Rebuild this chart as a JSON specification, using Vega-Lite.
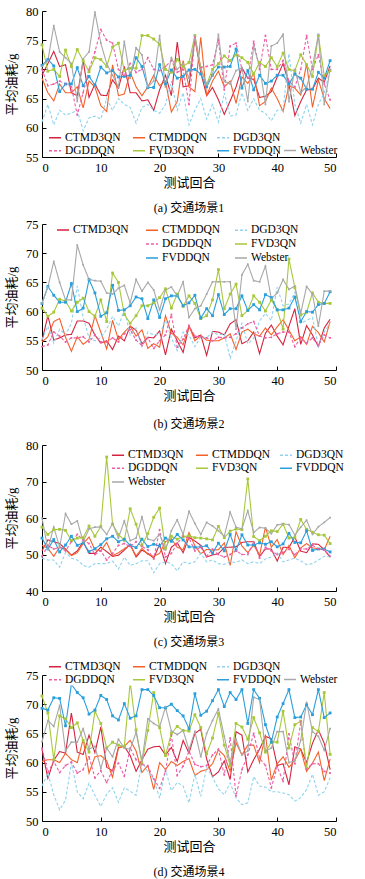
{
"$schema": "https://vega.github.io/schema/vega-lite/v6.json",
"spacing": 4,
"config": {
  "view": {"stroke": null},
  "axis": {"labelFont": "Liberation Serif", "labelFontSize": 12.5, "labelColor": "#000", "tickColor": "#000", "domainColor": "#000", "domainWidth": 1, "tickWidth": 1, "tickSize": -4, "grid": false, "labelPadding": 8, "titleFont": "Liberation Serif, Noto Sans CJK SC", "titleFontSize": 13, "titleFontWeight": "normal", "titleColor": "#000"},
  "axisX": {"titlePadding": 3},
  "axisY": {"titlePadding": 7},
  "legend": {"labelFont": "Liberation Serif", "labelFontSize": 11.5, "labelColor": "#000", "symbolType": "stroke", "symbolSize": 144, "symbolStrokeWidth": 1.5, "labelOffset": 3, "rowPadding": 1, "padding": 0, "direction": "horizontal"},
  "title": {"font": "Liberation Serif, Noto Sans CJK SC", "fontSize": 12, "fontWeight": "normal", "color": "#000", "offset": 13}
},
"resolve": {"scale": {"color": "independent", "strokeDash": "independent"}},
"datasets": {
"p1": [
{"x":0,"a":69,"b":68.5,"c":61,"d":70,"e":74.2,"f":70.7,"g":70.5},
{"x":1,"a":71,"b":66,"c":64,"d":67.2,"e":69.7,"f":71.7,"g":71.5},
{"x":2,"a":73.1,"b":64.6,"c":60.5,"d":67.5,"e":70,"f":70.6,"g":77.5},
{"x":3,"a":70.5,"b":67.5,"c":63,"d":68,"e":68.8,"f":66.2,"g":73},
{"x":4,"a":70.8,"b":66,"c":62.2,"d":67.5,"e":73.3,"f":67.5,"g":72},
{"x":5,"a":66,"b":66,"c":62.5,"d":67,"e":70.5,"f":67.5,"g":71},
{"x":6,"a":65.5,"b":67,"c":63,"d":62.2,"e":73.4,"f":70.3,"g":64.5},
{"x":7,"a":71.5,"b":63.4,"c":59.5,"d":66,"e":71.5,"f":67.2,"g":71.8},
{"x":8,"a":65.2,"b":68,"c":61.7,"d":70,"e":69.6,"f":68.8,"g":73},
{"x":9,"a":67.5,"b":67,"c":62,"d":73,"e":72,"f":67.3,"g":79.8},
{"x":10,"a":65.6,"b":63.8,"c":61.5,"d":76.8,"e":71.7,"f":70.4,"g":74.5},
{"x":11,"a":65.5,"b":62.8,"c":65,"d":75,"e":70.5,"f":69.4,"g":71},
{"x":12,"a":68.2,"b":70.8,"c":63,"d":74.5,"e":73.8,"f":69.8,"g":69},
{"x":13,"a":66.8,"b":65.5,"c":65,"d":70,"e":74.5,"f":68.7,"g":67},
{"x":14,"a":70.5,"b":65.8,"c":64,"d":69,"e":69.8,"f":68.8,"g":74.8},
{"x":15,"a":66,"b":69.5,"c":63.5,"d":71,"e":70.2,"f":69,"g":68.5},
{"x":16,"a":66,"b":67,"c":60.8,"d":69.5,"e":70.2,"f":72,"g":73.7},
{"x":17,"a":64.6,"b":65.5,"c":63.5,"d":70,"e":75.8,"f":70.5,"g":72.5},
{"x":18,"a":64.8,"b":67,"c":64,"d":72,"e":75.8,"f":66.9,"g":67},
{"x":19,"a":63,"b":69,"c":63,"d":70,"e":75.2,"f":66.9,"g":68},
{"x":20,"a":66.5,"b":67.2,"c":62.5,"d":69.8,"e":74.3,"f":70.8,"g":75.8},
{"x":21,"a":69,"b":68,"c":64,"d":70.5,"e":70,"f":67.5,"g":67},
{"x":22,"a":65.5,"b":62.7,"c":68,"d":71.5,"e":69.5,"f":69.9,"g":72},
{"x":23,"a":74.7,"b":64.5,"c":63,"d":69.5,"e":71.7,"f":68.5,"g":70},
{"x":24,"a":67,"b":71.5,"c":66,"d":70,"e":70.5,"f":68.8,"g":71},
{"x":25,"a":67.2,"b":67,"c":60.5,"d":64,"e":71.2,"f":69.9,"g":68.5},
{"x":26,"a":75.4,"b":66.2,"c":63,"d":75.5,"e":75.8,"f":70,"g":75.8},
{"x":27,"a":69.5,"b":75.5,"c":65,"d":70.3,"e":70.3,"f":69.2,"g":70},
{"x":28,"a":65.5,"b":65.5,"c":61.5,"d":70.5,"e":67.4,"f":67,"g":67.5},
{"x":29,"a":66.9,"b":68,"c":64,"d":70.8,"e":70,"f":69,"g":69},
{"x":30,"a":64.8,"b":69.7,"c":61,"d":75,"e":71,"f":70.4,"g":76},
{"x":31,"a":62.3,"b":67,"c":66,"d":66.5,"e":72.3,"f":70.4,"g":68},
{"x":32,"a":64.6,"b":68,"c":62,"d":74,"e":71.5,"f":70.5,"g":67.5},
{"x":33,"a":67,"b":64.2,"c":62.2,"d":74.5,"e":72.5,"f":73.5,"g":69.8},
{"x":34,"a":70.3,"b":68.7,"c":66,"d":70,"e":72,"f":66.8,"g":70.3},
{"x":35,"a":68.5,"b":67.6,"c":63,"d":68.5,"e":71.2,"f":69.8,"g":64.5},
{"x":36,"a":68.3,"b":69.3,"c":65,"d":74.8,"e":69.2,"f":66.5,"g":74},
{"x":37,"a":65.2,"b":63.8,"c":63,"d":70,"e":71.2,"f":69,"g":70.5},
{"x":38,"a":65.4,"b":64.5,"c":62.5,"d":75.8,"e":70.5,"f":67.6,"g":64},
{"x":39,"a":66.2,"b":66.8,"c":61.2,"d":70,"e":72,"f":68,"g":74},
{"x":40,"a":68.7,"b":65,"c":63,"d":70,"e":70.5,"f":69,"g":74.5},
{"x":41,"a":71,"b":62.8,"c":63,"d":71.5,"e":72.8,"f":69,"g":76},
{"x":42,"a":67.5,"b":67.2,"c":72.7,"d":68,"e":70,"f":67.5,"g":64.5},
{"x":43,"a":62.1,"b":66.8,"c":64,"d":67,"e":69.8,"f":69.2,"g":70},
{"x":44,"a":64.5,"b":65.6,"c":60.8,"d":70,"e":72.5,"f":68.5,"g":66},
{"x":45,"a":66.5,"b":71,"c":64,"d":75.8,"e":70.8,"f":66.6,"g":67},
{"x":46,"a":66.6,"b":63.5,"c":60.5,"d":70,"e":68.8,"f":66.6,"g":70.5},
{"x":47,"a":68.5,"b":68.2,"c":64,"d":72.5,"e":75.8,"f":69.5,"g":76},
{"x":48,"a":67.8,"b":65,"c":66,"d":67.5,"e":68.9,"f":68.5,"g":64},
{"x":49,"a":70.6,"b":63.3,"c":70,"d":64.8,"e":69.8,"f":71.5,"g":70}
],
"p2": [
{"x":0,"a":55,"b":54.8,"c":55.2,"d":54,"e":60.6,"f":61.4,"g":61.5},
{"x":1,"a":59.3,"b":55.7,"c":57.5,"d":54.3,"e":59.2,"f":64.3,"g":64.2},
{"x":2,"a":55.1,"b":58.3,"c":54.6,"d":56.5,"e":59.9,"f":62.8,"g":68.6},
{"x":3,"a":55.5,"b":58.8,"c":57,"d":55.8,"e":62.1,"f":61.6,"g":65},
{"x":4,"a":56,"b":55.6,"c":56,"d":54.8,"e":61.8,"f":61.6,"g":62},
{"x":5,"a":56.1,"b":53.2,"c":58,"d":55.5,"e":60.1,"f":64.8,"g":62},
{"x":6,"a":58.4,"b":55.7,"c":64.4,"d":55.5,"e":61.6,"f":60,"g":71.4},
{"x":7,"a":58.4,"b":54.4,"c":59,"d":55.7,"e":62.3,"f":60.6,"g":68},
{"x":8,"a":58,"b":55.2,"c":55.5,"d":54.8,"e":60,"f":65.5,"g":65.5},
{"x":9,"a":56,"b":59.3,"c":55,"d":56,"e":59.2,"f":63.2,"g":65.3},
{"x":10,"a":54.6,"b":56.5,"c":55.5,"d":54.8,"e":62,"f":59.2,"g":65.2},
{"x":11,"a":55,"b":53.6,"c":57,"d":54.8,"e":58.3,"f":59.8,"g":63.2},
{"x":12,"a":53.5,"b":58.5,"c":59.2,"d":55.5,"e":66.6,"f":64.5,"g":63},
{"x":13,"a":55.8,"b":55.2,"c":57.5,"d":54.8,"e":65,"f":60.2,"g":64},
{"x":14,"a":55,"b":56.5,"c":60.3,"d":56.2,"e":59.5,"f":60.3,"g":64.5},
{"x":15,"a":57.5,"b":57.5,"c":56,"d":56.9,"e":58,"f":61,"g":61.5},
{"x":16,"a":56.8,"b":55.8,"c":57.2,"d":55.1,"e":59.3,"f":62.5,"g":65.5},
{"x":17,"a":54.5,"b":56.9,"c":54,"d":54.2,"e":61,"f":62.2,"g":63.5},
{"x":18,"a":55.6,"b":53.7,"c":56.5,"d":55.5,"e":61,"f":58.8,"g":65},
{"x":19,"a":55.5,"b":54.5,"c":56,"d":53.7,"e":61.5,"f":62,"g":63.7},
{"x":20,"a":56.7,"b":53.9,"c":56.2,"d":55,"e":62.4,"f":59,"g":60.3},
{"x":21,"a":52.6,"b":59.3,"c":58.5,"d":56,"e":63.9,"f":62.2,"g":63.7},
{"x":22,"a":57,"b":56.3,"c":55.5,"d":59.5,"e":60.6,"f":62.7,"g":64.2},
{"x":23,"a":55,"b":55.6,"c":53.3,"d":53.9,"e":63,"f":62.7,"g":62.7},
{"x":24,"a":53,"b":54.3,"c":56.5,"d":55.3,"e":60.9,"f":61,"g":65.1},
{"x":25,"a":57.5,"b":57.6,"c":56,"d":57.6,"e":62.7,"f":61.5,"g":59},
{"x":26,"a":55.5,"b":55,"c":54,"d":55.8,"e":61.4,"f":62.8,"g":60.5},
{"x":27,"a":56,"b":55.9,"c":55.7,"d":55.7,"e":58.8,"f":58.9,"g":61},
{"x":28,"a":52.5,"b":55.1,"c":55.5,"d":55.5,"e":59.3,"f":60.5,"g":63},
{"x":29,"a":56.6,"b":55,"c":56.5,"d":55,"e":62,"f":59.3,"g":65.1},
{"x":30,"a":56.5,"b":55,"c":56,"d":55.6,"e":67.2,"f":62.9,"g":65.1},
{"x":31,"a":56,"b":55.5,"c":56.2,"d":55.5,"e":60.5,"f":59.5,"g":65.1},
{"x":32,"a":57.9,"b":56.2,"c":52,"d":55.6,"e":63,"f":60.5,"g":65.1},
{"x":33,"a":58.6,"b":53.5,"c":55,"d":56.2,"e":64.7,"f":60.5,"g":57},
{"x":34,"a":54.5,"b":56.5,"c":58,"d":57.2,"e":59.3,"f":62.7,"g":66.3},
{"x":35,"a":55,"b":57,"c":54.5,"d":57.9,"e":60.2,"f":60.2,"g":68.1},
{"x":36,"a":56.5,"b":56.2,"c":55.4,"d":58.3,"e":62.7,"f":61.2,"g":65.3},
{"x":37,"a":52.8,"b":55.8,"c":58.4,"d":55.8,"e":61.6,"f":60.3,"g":65.1},
{"x":38,"a":56.3,"b":57.2,"c":59.7,"d":55.5,"e":60.1,"f":62.9,"g":67.8},
{"x":39,"a":57.7,"b":56,"c":58.5,"d":55.6,"e":62,"f":62.4,"g":62.2},
{"x":40,"a":55.8,"b":57.4,"c":64.2,"d":56.2,"e":60.3,"f":60.3,"g":63.2},
{"x":41,"a":54.3,"b":58.6,"c":61,"d":56.5,"e":57,"f":60.3,"g":65.5},
{"x":42,"a":57.5,"b":56.8,"c":61.3,"d":56.5,"e":69,"f":60.6,"g":63.8},
{"x":43,"a":60.5,"b":55,"c":63.3,"d":54,"e":64.1,"f":62.5,"g":64.4},
{"x":44,"a":54.4,"b":55.7,"c":58,"d":55.5,"e":59.4,"f":58.3,"g":59.7},
{"x":45,"a":57.6,"b":54.4,"c":58.5,"d":54.6,"e":59.9,"f":60,"g":64.3},
{"x":46,"a":56,"b":57.5,"c":59,"d":55.5,"e":63.2,"f":59.9,"g":63},
{"x":47,"a":54,"b":56.4,"c":54,"d":54.2,"e":61.6,"f":61.2,"g":57.5},
{"x":48,"a":57.2,"b":54.8,"c":56.5,"d":56,"e":61.4,"f":61.4,"g":63.5},
{"x":49,"a":58.7,"b":58.3,"c":58,"d":55.5,"e":61.4,"f":63.4,"g":63.5}
],
"p3": [
{"x":0,"a":51,"b":52.5,"c":49,"d":49.5,"e":57.5,"f":54.5,"g":60},
{"x":1,"a":54,"b":51.7,"c":48.5,"d":52.5,"e":55.5,"f":51.5,"g":51.5},
{"x":2,"a":53.5,"b":49.5,"c":48.5,"d":51.5,"e":56.8,"f":54.1,"g":57.5},
{"x":3,"a":53,"b":52,"c":46.5,"d":52,"e":56.9,"f":50.7,"g":52},
{"x":4,"a":51.5,"b":51.4,"c":50.5,"d":51,"e":56.6,"f":52.6,"g":61.2},
{"x":5,"a":49.8,"b":49.7,"c":49,"d":53.5,"e":53.8,"f":55,"g":58.3},
{"x":6,"a":51,"b":50.5,"c":48.5,"d":55.5,"e":54.5,"f":52.5,"g":59.2},
{"x":7,"a":53.5,"b":53,"c":47,"d":54,"e":54.6,"f":53.2,"g":53.5},
{"x":8,"a":50.3,"b":54.8,"c":46.5,"d":53,"e":57.8,"f":50.8,"g":57},
{"x":9,"a":50.3,"b":51.3,"c":47.5,"d":50,"e":55,"f":51.6,"g":57.5},
{"x":10,"a":52,"b":51,"c":47.5,"d":51,"e":57.7,"f":52.7,"g":57.5},
{"x":11,"a":50.8,"b":53.3,"c":47.5,"d":48.5,"e":76.7,"f":54.3,"g":55.5},
{"x":12,"a":49.5,"b":49.7,"c":48.2,"d":50.3,"e":58.3,"f":55,"g":58.5},
{"x":13,"a":49.8,"b":50.5,"c":46,"d":52.5,"e":55.5,"f":53.5,"g":54.5},
{"x":14,"a":51.2,"b":51.6,"c":49.3,"d":53,"e":53.9,"f":54.2,"g":59.2},
{"x":15,"a":52.8,"b":52.5,"c":47,"d":52.2,"e":62.5,"f":52.5,"g":53.8},
{"x":16,"a":49.3,"b":49.6,"c":47.5,"d":53.5,"e":58.3,"f":51.9,"g":54.5},
{"x":17,"a":51.2,"b":51.7,"c":48.3,"d":52.2,"e":52.5,"f":54.2,"g":60.3},
{"x":18,"a":50.3,"b":50,"c":48.3,"d":51.3,"e":55.7,"f":52.2,"g":54.2},
{"x":19,"a":49,"b":49.5,"c":45,"d":48.8,"e":60.2,"f":52.8,"g":53.8},
{"x":20,"a":52.8,"b":50.3,"c":47.5,"d":56.8,"e":62.7,"f":52.3,"g":55.5},
{"x":21,"a":47.5,"b":53.5,"c":48,"d":49.3,"e":51.7,"f":54.5,"g":51.3},
{"x":22,"a":52,"b":54.3,"c":47.5,"d":50.3,"e":55,"f":53.6,"g":56.5},
{"x":23,"a":53.2,"b":52,"c":45.5,"d":53,"e":54.2,"f":55.5,"g":59.5},
{"x":24,"a":50.5,"b":51.3,"c":48,"d":55,"e":54.9,"f":54,"g":55.5},
{"x":25,"a":54.7,"b":56,"c":47.5,"d":54.5,"e":55.1,"f":52.1,"g":61.8},
{"x":26,"a":53.7,"b":52.4,"c":48,"d":51,"e":54.6,"f":52,"g":58.5},
{"x":27,"a":52.5,"b":50.2,"c":50.3,"d":52,"e":54.5,"f":52.1,"g":55.5},
{"x":28,"a":49.3,"b":51.4,"c":48,"d":49.5,"e":54.3,"f":52.4,"g":58.8},
{"x":29,"a":49.9,"b":51.2,"c":48.5,"d":51.5,"e":54,"f":50.4,"g":57.8},
{"x":30,"a":50.2,"b":51.3,"c":47.5,"d":50,"e":57.7,"f":53.1,"g":56.5},
{"x":31,"a":52,"b":53.2,"c":47.3,"d":49.3,"e":54.6,"f":51,"g":55},
{"x":32,"a":52,"b":47,"c":48,"d":50,"e":56.4,"f":55.5,"g":61.6},
{"x":33,"a":52.1,"b":56.2,"c":47.8,"d":51,"e":57,"f":51.1,"g":57.5},
{"x":34,"a":53.3,"b":52.3,"c":48.5,"d":50,"e":56.8,"f":55.4,"g":57},
{"x":35,"a":53.5,"b":50.5,"c":47.5,"d":50,"e":70.7,"f":52.6,"g":62},
{"x":36,"a":53.5,"b":52.6,"c":48,"d":53.5,"e":54.9,"f":52.6,"g":56},
{"x":37,"a":49.5,"b":49.8,"c":47.5,"d":49,"e":53.8,"f":53.2,"g":57.4},
{"x":38,"a":51.5,"b":57.5,"c":48.8,"d":52,"e":55,"f":52.8,"g":57.2},
{"x":39,"a":51.5,"b":52,"c":49.3,"d":51,"e":56.5,"f":53.5,"g":55.7},
{"x":40,"a":48.2,"b":54.1,"c":50.5,"d":50,"e":56.3,"f":52.1,"g":58.1},
{"x":41,"a":52,"b":50,"c":48,"d":50.5,"e":58.3,"f":52.9,"g":58.4},
{"x":42,"a":51.9,"b":52.5,"c":48.5,"d":51.5,"e":54.5,"f":55.8,"g":58.2},
{"x":43,"a":54.8,"b":49.1,"c":49,"d":50,"e":54.7,"f":53.3,"g":55.3},
{"x":44,"a":50.9,"b":51.8,"c":48.3,"d":51.5,"e":59.6,"f":53.2,"g":57.5},
{"x":45,"a":50.5,"b":53,"c":47.2,"d":51.5,"e":56.9,"f":56.5,"g":59.4},
{"x":46,"a":52.9,"b":51.8,"c":47.5,"d":52.5,"e":56.1,"f":51.1,"g":55.5},
{"x":47,"a":52.8,"b":51.6,"c":48.5,"d":51.5,"e":55.4,"f":51.5,"g":57.6},
{"x":48,"a":51.3,"b":51.3,"c":49.5,"d":51.3,"e":55.3,"f":51.5,"g":58.8},
{"x":49,"a":49.3,"b":55,"c":49.5,"d":49.5,"e":53,"f":50.7,"g":60.1}
],
"p4": [
{"x":0,"a":62.3,"b":60.2,"c":56,"d":62.5,"e":71.4,"f":69.3,"g":63.6},
{"x":1,"a":57.3,"b":60.5,"c":58.2,"d":58.3,"e":68.5,"f":69,"g":67.2},
{"x":2,"a":60.4,"b":60.5,"c":54.5,"d":60.2,"e":60.5,"f":71.1,"g":66.2},
{"x":3,"a":61.9,"b":60,"c":51.9,"d":58.3,"e":68,"f":71,"g":69.8},
{"x":4,"a":61.6,"b":61.6,"c":53.6,"d":59.5,"e":67.5,"f":66.3,"g":62},
{"x":5,"a":68.5,"b":60.5,"c":60,"d":60.1,"e":66,"f":73.4,"g":63.5},
{"x":6,"a":61.8,"b":60,"c":55,"d":58.2,"e":66.8,"f":72,"g":63.5},
{"x":7,"a":61.4,"b":64,"c":53.8,"d":58.8,"e":63.8,"f":71.1,"g":65.8},
{"x":8,"a":64.7,"b":58.2,"c":56.5,"d":61,"e":61.8,"f":68.3,"g":62.3},
{"x":9,"a":61.7,"b":61,"c":54.4,"d":57.4,"e":68.8,"f":69,"g":62.8},
{"x":10,"a":66.1,"b":61.2,"c":52.5,"d":58.6,"e":66.7,"f":71.5,"g":59},
{"x":11,"a":59.2,"b":60.3,"c":54.6,"d":56.6,"e":62.5,"f":70.8,"g":62.5},
{"x":12,"a":58.6,"b":57.5,"c":55.7,"d":58.7,"e":63.5,"f":68,"g":61},
{"x":13,"a":62.6,"b":62.5,"c":53.2,"d":59.9,"e":63,"f":67.3,"g":64},
{"x":14,"a":62.8,"b":62.8,"c":55.7,"d":57.7,"e":62.7,"f":70.1,"g":62.5},
{"x":15,"a":61.2,"b":63.8,"c":55.1,"d":62.5,"e":73.8,"f":67.6,"g":62.3},
{"x":16,"a":58.5,"b":62,"c":54.4,"d":60.5,"e":65.6,"f":68,"g":65.2},
{"x":17,"a":60.5,"b":58.3,"c":60.2,"d":59.7,"e":59.8,"f":72.5,"g":60.3},
{"x":18,"a":62.3,"b":59.5,"c":58.4,"d":59.4,"e":65.5,"f":72.5,"g":67.5},
{"x":19,"a":62.7,"b":55.4,"c":57.2,"d":57.2,"e":72,"f":71.5,"g":66.7},
{"x":20,"a":62.8,"b":60,"c":53.9,"d":55.6,"e":66,"f":69.4,"g":66.1},
{"x":21,"a":61.3,"b":58.8,"c":58.8,"d":58.5,"e":61.2,"f":69.4,"g":69.5},
{"x":22,"a":62.6,"b":60.2,"c":55.2,"d":64.7,"e":65,"f":70,"g":65.4},
{"x":23,"a":60.2,"b":59.5,"c":56.6,"d":57.8,"e":66.2,"f":68.9,"g":64.8},
{"x":24,"a":63.8,"b":60.2,"c":56,"d":59.4,"e":65.5,"f":68,"g":65.5},
{"x":25,"a":61.6,"b":60.7,"c":53.1,"d":62,"e":65.4,"f":65.8,"g":62.2},
{"x":26,"a":65,"b":57.8,"c":58,"d":59.7,"e":68.2,"f":71.8,"g":65.3},
{"x":27,"a":65.7,"b":58.5,"c":54.2,"d":59.3,"e":66,"f":68.1,"g":61},
{"x":28,"a":60.6,"b":58.8,"c":59.2,"d":59.5,"e":61.5,"f":68.8,"g":65},
{"x":29,"a":57.6,"b":59.8,"c":57.5,"d":61.3,"e":64.2,"f":70.6,"g":67.2},
{"x":30,"a":58.4,"b":62.2,"c":55.5,"d":62.3,"e":68.4,"f":72.5,"g":69.2},
{"x":31,"a":60.3,"b":61.2,"c":54.5,"d":57.9,"e":63,"f":69.6,"g":64.5},
{"x":32,"a":57.1,"b":58.5,"c":56.5,"d":64.2,"e":59.5,"f":72,"g":60},
{"x":33,"a":65.3,"b":63.4,"c":54,"d":54.3,"e":66.7,"f":70.8,"g":64},
{"x":34,"a":64.7,"b":61.3,"c":52.8,"d":58.8,"e":66.1,"f":72.5,"g":61.3},
{"x":35,"a":58.4,"b":63,"c":53.1,"d":61.3,"e":64,"f":66.7,"g":62},
{"x":36,"a":60.5,"b":63,"c":57.6,"d":65,"e":67.7,"f":72.5,"g":71.2},
{"x":37,"a":62.3,"b":60,"c":56,"d":60.8,"e":65.1,"f":71,"g":70.8},
{"x":38,"a":64.5,"b":64.8,"c":55.8,"d":59.5,"e":61.8,"f":66.5,"g":62},
{"x":39,"a":64.1,"b":57,"c":55,"d":55.7,"e":63.5,"f":63.5,"g":62.5},
{"x":40,"a":59.5,"b":59.8,"c":55,"d":59.3,"e":63.5,"f":67.8,"g":65.3},
{"x":41,"a":59.8,"b":61,"c":54.8,"d":56.8,"e":68.8,"f":70.1,"g":65.3},
{"x":42,"a":56.2,"b":59.2,"c":54.5,"d":64.9,"e":62.5,"f":72.5,"g":60},
{"x":43,"a":62.7,"b":60.4,"c":53.4,"d":59.8,"e":66.5,"f":67.7,"g":60.3},
{"x":44,"a":62.3,"b":62.3,"c":54,"d":67,"e":67.1,"f":67.8,"g":63.8},
{"x":45,"a":60,"b":58.5,"c":55.4,"d":58.9,"e":59,"f":69.9,"g":70.3},
{"x":46,"a":63.3,"b":59.9,"c":58,"d":59.8,"e":66,"f":68.2,"g":65.3},
{"x":47,"a":65.6,"b":61.8,"c":54.4,"d":59.8,"e":65.3,"f":72.5,"g":64.5},
{"x":48,"a":63.3,"b":56.9,"c":55,"d":58.5,"e":72,"f":67.7,"g":62.1},
{"x":49,"a":58.8,"b":60.6,"c":57.4,"d":58.2,"e":61.4,"f":68.5,"g":65.8}
]
},
"vconcat": [
{
 "width": 294, "height": 146,
 "data": {"name": "p1"},
 "transform": [{"fold": ["a","b","c","d","e","f","g"], "as": ["s","y"]}],
 "title": {"text": "(a)  交通场景1", "orient": "bottom"},
 "encoding": {
  "x": {"field": "x", "type": "quantitative", "scale": {"domain": [0, 50], "nice": false}, "axis": {"values": [0,10,20,30,40,50], "title": "测试回合"}},
  "y": {"field": "y", "type": "quantitative", "scale": {"domain": [55, 80], "nice": false, "zero": false}, "axis": {"values": [55,60,65,70,75,80], "title": "平均油耗/g"}}
 },
 "layer": [
  {"transform": [{"filter": {"field": "s", "oneOf": ["a","b","c"]}}], "mark": {"type": "line", "strokeWidth": 1.1},
   "encoding": {
    "color": {"field": "s", "type": "nominal", "scale": {"domain": ["a","b","c"], "range": ["#d4243f","#f4612b","#8fd3ee"]}, "legend": {"orient": "none", "legendX": 6, "legendY": 119.5, "columns": 3, "columnPadding": 6, "gridAlign": "all", "title": null, "labelExpr": "{'a':'CTMD3QN','b':'CTMDDQN','c':'DGD3QN','d':'DGDDQN','e':'FVD3QN','f':'FVDDQN','g':'Webster'}[datum.label]", "encode": {"symbols": {"update": {"strokeDash": {"signal": "indexof(['c','d'], datum.value) >= 0 ? [3,2] : [1,0]"}}}}}},
    "strokeDash": {"field": "s", "type": "nominal", "scale": {"domain": ["a","b","c"], "range": [[1,0],[1,0],[3,2]]}, "legend": null}
   }},
  {"transform": [{"filter": {"field": "s", "oneOf": ["d","e","f"]}}], "mark": {"type": "line", "strokeWidth": 1.1},
   "encoding": {
    "color": {"field": "s", "type": "nominal", "scale": {"domain": ["d","e","f"], "range": ["#ec5fa5","#a8c83c","#2a9fdc"]}, "legend": {"orient": "none", "legendX": 6, "legendY": 132.5, "columns": 3, "columnPadding": 15, "gridAlign": "all", "title": null, "labelExpr": "{'a':'CTMD3QN','b':'CTMDDQN','c':'DGD3QN','d':'DGDDQN','e':'FVD3QN','f':'FVDDQN','g':'Webster'}[datum.label]", "encode": {"symbols": {"update": {"strokeDash": {"signal": "indexof(['c','d'], datum.value) >= 0 ? [3,2] : [1,0]"}}}}}},
    "strokeDash": {"field": "s", "type": "nominal", "scale": {"domain": ["d","e","f"], "range": [[3,2],[1,0],[1,0]]}, "legend": null}
   }},
  {"transform": [{"filter": {"field": "s", "equal": "g"}}], "mark": {"type": "line", "strokeWidth": 1.1},
   "encoding": {
    "color": {"field": "s", "type": "nominal", "scale": {"domain": ["g"], "range": ["#a8a8a8"]}, "legend": {"orient": "none", "legendX": 241, "legendY": 132.5, "columns": 1, "title": null, "labelExpr": "{'a':'CTMD3QN','b':'CTMDDQN','c':'DGD3QN','d':'DGDDQN','e':'FVD3QN','f':'FVDDQN','g':'Webster'}[datum.label]"}}
   }},
  {"transform": [{"filter": {"field": "s", "equal": "e"}}], "mark": {"type": "square", "size": 8, "color": "#a8c83c", "opacity": 1}},
  {"transform": [{"filter": {"field": "s", "equal": "f"}}], "mark": {"type": "square", "size": 8, "color": "#2a9fdc", "opacity": 1}},
  {"transform": [{"filter": {"field": "s", "equal": "d"}}], "mark": {"type": "square", "size": 3, "color": "#ec5fa5", "opacity": 1}},
  {"transform": [{"filter": {"field": "s", "equal": "g"}}], "mark": {"type": "square", "size": 3, "color": "#a8a8a8", "opacity": 1}}
 ],
 "resolve": {"scale": {"color": "independent", "strokeDash": "independent"}}
},
{
 "width": 294, "height": 146,
 "data": {"name": "p2"},
 "transform": [{"fold": ["a","b","c","d","e","f","g"], "as": ["s","y"]}],
 "title": {"text": ["(b)  交通场景2", " "], "orient": "bottom", "lineHeight": 5, "offset": 16},
 "encoding": {
  "x": {"field": "x", "type": "quantitative", "scale": {"domain": [0, 50], "nice": false}, "axis": {"values": [0,10,20,30,40,50], "title": "测试回合"}},
  "y": {"field": "y", "type": "quantitative", "scale": {"domain": [50, 75], "nice": false, "zero": false}, "axis": {"values": [50,55,60,65,70,75], "title": "平均油耗/g"}}
 },
 "layer": [
  {"transform": [{"filter": {"field": "s", "oneOf": ["a"]}}], "mark": {"type": "line", "strokeWidth": 1.1},
   "encoding": {
    "color": {"field": "s", "type": "nominal", "scale": {"domain": ["a"], "range": ["#d4243f"]}, "legend": {"orient": "none", "legendX": 14, "legendY": -1, "columns": 1, "title": null, "labelExpr": "{'a':'CTMD3QN','b':'CTMDDQN','c':'DGD3QN','d':'DGDDQN','e':'FVD3QN','f':'FVDDQN','g':'Webster'}[datum.label]"}},
    "strokeDash": {"field": "s", "type": "nominal", "scale": {"domain": ["a"], "range": [[1,0]]}, "legend": null}
   }},
  {"transform": [{"filter": {"field": "s", "oneOf": ["b","c","d","e","f","g"]}}], "mark": {"type": "line", "strokeWidth": 1.1},
   "encoding": {
    "color": {"field": "s", "type": "nominal", "scale": {"domain": ["b","c","d","e","f","g"], "range": ["#f4612b","#8fd3ee","#ec5fa5","#a8c83c","#2a9fdc","#a8a8a8"]}, "legend": {"orient": "none", "legendX": 103, "legendY": -1, "columns": 2, "columnPadding": 11, "gridAlign": "all", "title": null, "labelExpr": "{'a':'CTMD3QN','b':'CTMDDQN','c':'DGD3QN','d':'DGDDQN','e':'FVD3QN','f':'FVDDQN','g':'Webster'}[datum.label]", "encode": {"symbols": {"update": {"strokeDash": {"signal": "indexof(['c','d'], datum.value) >= 0 ? [3,2] : [1,0]"}}}}}},
    "strokeDash": {"field": "s", "type": "nominal", "scale": {"domain": ["b","c","d","e","f","g"], "range": [[1,0],[3,2],[3,2],[1,0],[1,0],[1,0]]}, "legend": null}
   }},
  {"transform": [{"filter": {"field": "s", "equal": "e"}}], "mark": {"type": "square", "size": 8, "color": "#a8c83c", "opacity": 1}},
  {"transform": [{"filter": {"field": "s", "equal": "f"}}], "mark": {"type": "square", "size": 8, "color": "#2a9fdc", "opacity": 1}},
  {"transform": [{"filter": {"field": "s", "equal": "d"}}], "mark": {"type": "square", "size": 3, "color": "#ec5fa5", "opacity": 1}},
  {"transform": [{"filter": {"field": "s", "equal": "g"}}], "mark": {"type": "square", "size": 3, "color": "#a8a8a8", "opacity": 1}}
 ],
 "resolve": {"scale": {"color": "independent", "strokeDash": "independent"}}
},
{
 "width": 294, "height": 146,
 "data": {"name": "p3"},
 "transform": [{"fold": ["a","b","c","d","e","f","g"], "as": ["s","y"]}],
 "title": {"text": ["(c)  交通场景3", " "], "orient": "bottom", "lineHeight": 7},
 "encoding": {
  "x": {"field": "x", "type": "quantitative", "scale": {"domain": [0, 50], "nice": false}, "axis": {"values": [0,10,20,30,40,50], "title": "测试回合"}},
  "y": {"field": "y", "type": "quantitative", "scale": {"domain": [40, 80], "nice": false, "zero": false}, "axis": {"values": [40,50,60,70,80], "title": "平均油耗/g"}}
 },
 "layer": [
  {"transform": [{"filter": {"field": "s", "oneOf": ["a","b","c"]}}], "mark": {"type": "line", "strokeWidth": 1.1},
   "encoding": {
    "color": {"field": "s", "type": "nominal", "scale": {"domain": ["a","b","c"], "range": ["#d4243f","#f4612b","#8fd3ee"]}, "legend": {"orient": "none", "legendX": 69, "legendY": 3, "columns": 3, "columnPadding": 6, "gridAlign": "all", "title": null, "labelExpr": "{'a':'CTMD3QN','b':'CTMDDQN','c':'DGD3QN','d':'DGDDQN','e':'FVD3QN','f':'FVDDQN','g':'Webster'}[datum.label]", "encode": {"symbols": {"update": {"strokeDash": {"signal": "indexof(['c','d'], datum.value) >= 0 ? [3,2] : [1,0]"}}}}}},
    "strokeDash": {"field": "s", "type": "nominal", "scale": {"domain": ["a","b","c"], "range": [[1,0],[1,0],[3,2]]}, "legend": null}
   }},
  {"transform": [{"filter": {"field": "s", "oneOf": ["d","e","f","g"]}}], "mark": {"type": "line", "strokeWidth": 1.1},
   "encoding": {
    "color": {"field": "s", "type": "nominal", "scale": {"domain": ["d","e","f","g"], "range": ["#ec5fa5","#a8c83c","#2a9fdc","#a8a8a8"]}, "legend": {"orient": "none", "legendX": 69, "legendY": 16, "columns": 3, "columnPadding": 15, "gridAlign": "all", "title": null, "labelExpr": "{'a':'CTMD3QN','b':'CTMDDQN','c':'DGD3QN','d':'DGDDQN','e':'FVD3QN','f':'FVDDQN','g':'Webster'}[datum.label]", "encode": {"symbols": {"update": {"strokeDash": {"signal": "indexof(['c','d'], datum.value) >= 0 ? [3,2] : [1,0]"}}}}}},
    "strokeDash": {"field": "s", "type": "nominal", "scale": {"domain": ["d","e","f","g"], "range": [[3,2],[1,0],[1,0],[1,0]]}, "legend": null}
   }},
  {"transform": [{"filter": {"field": "s", "equal": "e"}}], "mark": {"type": "square", "size": 8, "color": "#a8c83c", "opacity": 1}},
  {"transform": [{"filter": {"field": "s", "equal": "f"}}], "mark": {"type": "square", "size": 8, "color": "#2a9fdc", "opacity": 1}},
  {"transform": [{"filter": {"field": "s", "equal": "d"}}], "mark": {"type": "square", "size": 3, "color": "#ec5fa5", "opacity": 1}},
  {"transform": [{"filter": {"field": "s", "equal": "g"}}], "mark": {"type": "square", "size": 3, "color": "#a8a8a8", "opacity": 1}}
 ],
 "resolve": {"scale": {"color": "independent", "strokeDash": "independent"}}
},
{
 "width": 294, "height": 146,
 "data": {"name": "p4"},
 "transform": [{"fold": ["a","b","c","d","e","f","g"], "as": ["s","y"]}],
 "title": {"text": "(d)  交通场景4", "orient": "bottom"},
 "encoding": {
  "x": {"field": "x", "type": "quantitative", "scale": {"domain": [0, 50], "nice": false}, "axis": {"values": [0,10,20,30,40,50], "title": "测试回合"}},
  "y": {"field": "y", "type": "quantitative", "scale": {"domain": [50, 75], "nice": false, "zero": false}, "axis": {"values": [50,55,60,65,70,75], "title": "平均油耗/g"}}
 },
 "layer": [
  {"transform": [{"filter": {"field": "s", "oneOf": ["a","b","c"]}}], "mark": {"type": "line", "strokeWidth": 1.1},
   "encoding": {
    "color": {"field": "s", "type": "nominal", "scale": {"domain": ["a","b","c"], "range": ["#d4243f","#f4612b","#8fd3ee"]}, "legend": {"orient": "none", "legendX": 6, "legendY": -15.5, "columns": 3, "columnPadding": 6, "gridAlign": "all", "title": null, "labelExpr": "{'a':'CTMD3QN','b':'CTMDDQN','c':'DGD3QN','d':'DGDDQN','e':'FVD3QN','f':'FVDDQN','g':'Webster'}[datum.label]", "encode": {"symbols": {"update": {"strokeDash": {"signal": "indexof(['c','d'], datum.value) >= 0 ? [3,2] : [1,0]"}}}}}},
    "strokeDash": {"field": "s", "type": "nominal", "scale": {"domain": ["a","b","c"], "range": [[1,0],[1,0],[3,2]]}, "legend": null}
   }},
  {"transform": [{"filter": {"field": "s", "oneOf": ["d","e","f"]}}], "mark": {"type": "line", "strokeWidth": 1.1},
   "encoding": {
    "color": {"field": "s", "type": "nominal", "scale": {"domain": ["d","e","f"], "range": ["#ec5fa5","#a8c83c","#2a9fdc"]}, "legend": {"orient": "none", "legendX": 6, "legendY": -2.5, "columns": 3, "columnPadding": 15, "gridAlign": "all", "title": null, "fillColor": "white", "labelExpr": "{'a':'CTMD3QN','b':'CTMDDQN','c':'DGD3QN','d':'DGDDQN','e':'FVD3QN','f':'FVDDQN','g':'Webster'}[datum.label]", "encode": {"symbols": {"update": {"strokeDash": {"signal": "indexof(['c','d'], datum.value) >= 0 ? [3,2] : [1,0]"}}}}}},
    "strokeDash": {"field": "s", "type": "nominal", "scale": {"domain": ["d","e","f"], "range": [[3,2],[1,0],[1,0]]}, "legend": null}
   }},
  {"transform": [{"filter": {"field": "s", "equal": "g"}}], "mark": {"type": "line", "strokeWidth": 1.1},
   "encoding": {
    "color": {"field": "s", "type": "nominal", "scale": {"domain": ["g"], "range": ["#a8a8a8"]}, "legend": {"orient": "none", "legendX": 241, "legendY": -2.5, "columns": 1, "title": null, "fillColor": "white", "labelExpr": "{'a':'CTMD3QN','b':'CTMDDQN','c':'DGD3QN','d':'DGDDQN','e':'FVD3QN','f':'FVDDQN','g':'Webster'}[datum.label]"}}
   }},
  {"transform": [{"filter": {"field": "s", "equal": "e"}}], "mark": {"type": "square", "size": 8, "color": "#a8c83c", "opacity": 1}},
  {"transform": [{"filter": {"field": "s", "equal": "f"}}], "mark": {"type": "square", "size": 8, "color": "#2a9fdc", "opacity": 1}},
  {"transform": [{"filter": {"field": "s", "equal": "d"}}], "mark": {"type": "square", "size": 3, "color": "#ec5fa5", "opacity": 1}},
  {"transform": [{"filter": {"field": "s", "equal": "g"}}], "mark": {"type": "square", "size": 3, "color": "#a8a8a8", "opacity": 1}}
 ],
 "resolve": {"scale": {"color": "independent", "strokeDash": "independent"}}
}
]
}
